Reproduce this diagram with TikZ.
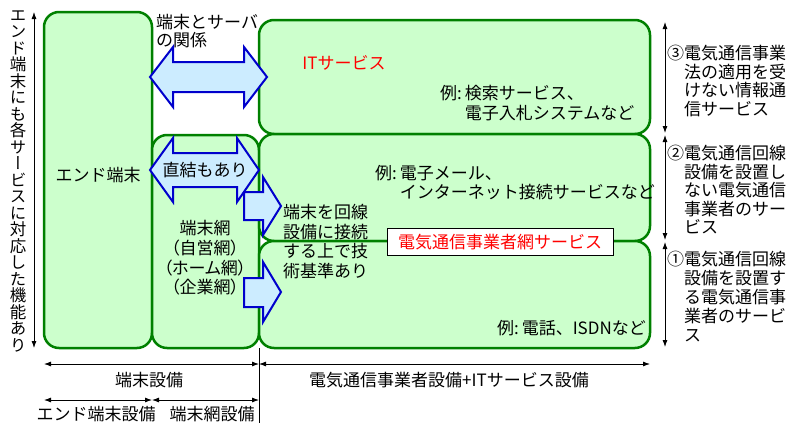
\documentclass[tikz,border=0pt]{standalone}
\usepackage{fontspec}
\setmainfont{Noto Sans CJK JP}
\newfontfamily\vfont[RawFeature=+vert]{Noto Sans CJK JP}
\newfontfamily\pfont[RawFeature=+palt]{Noto Sans CJK JP}
\usetikzlibrary{arrows.meta}
\definecolor{boxgreen}{RGB}{0,128,0}
\definecolor{boxfill}{RGB}{204,255,204}
\definecolor{arrowblue}{RGB}{0,0,204}
\definecolor{arrowfill}{RGB}{204,236,255}
\tikzset{
  gbox/.style={draw=boxgreen,fill=boxfill,line width=2.5pt,rounded corners=15pt,
    anchor=north west,inner sep=0pt,outer sep=0pt},
  barrow/.style={draw=arrowblue,fill=arrowfill,line width=2pt,line join=miter},
  dim/.style={{Latex[length=7pt,width=5pt]}-{Latex[length=7pt,width=5pt]},line width=0.8pt},
  lbl/.style={inner sep=0pt,font=\fontsize{17}{19}\selectfont},
}
\begin{document}
\begin{tikzpicture}[x=1pt,y=-1pt]
	\useasboundingbox (0,0) rectangle (792,423);
	% boxes
	\node[gbox,minimum width=108pt,minimum height=336pt] (endbox) at (44,12) {};
	\node[gbox,minimum width=107pt,minimum height=213pt] (netbox) at (152,135) {};
	\node[gbox,minimum width=391pt,minimum height=114pt] (itbox) at (259,20) {};
	\node[gbox,minimum width=391pt,minimum height=107pt] (lanbox) at (259,134) {};
	\node[gbox,minimum width=391pt,minimum height=107pt] (telbox) at (259,241) {};
	% block arrows
	\draw[barrow] (150,77) -- (173,47) -- (173,62) -- (244,62) -- (244,47) -- (267,77)
		-- (244,107) -- (244,92) -- (173,92) -- (173,107) -- cycle;
	\draw[barrow] (150,170) -- (173,138) -- (173,153) -- (237,153) -- (237,138) -- (259,170)
		-- (237,202) -- (237,187) -- (173,187) -- (173,202) -- cycle;
	\draw[barrow] (244,192) -- (263,192) -- (263,177) -- (281,206) -- (263,235) -- (263,220)
		-- (244,220) -- cycle;
	\draw[barrow] (244,278) -- (263,278) -- (263,262) -- (281,292) -- (263,322) -- (263,307)
		-- (244,307) -- cycle;
	% dimension lines
	\coordinate (dimA) at (0,364);
	\coordinate (dimB) at (0,400);
	\coordinate (bot) at (0,423);
	\draw[line width=0.8pt] (netbox.south east) -- (netbox.south east |- bot);
	\draw[dim] (endbox.south west |- dimA) -- (netbox.south east |- dimA);
	\draw[dim] (netbox.south east |- dimA) -- (telbox.south east |- dimA);
	\draw[dim] (endbox.south west |- dimB) -- (endbox.south east |- dimB);
	\draw[dim] (netbox.south west |- dimB) -- (netbox.south east |- dimB);
	\draw[dim] ([xshift=-10pt]endbox.north west) -- ([xshift=-10pt]endbox.south west);
	\draw[dim,shorten <=2pt,shorten >=1pt] ([xshift=15pt]itbox.north east) -- ([xshift=15pt]itbox.south east);
	\draw[dim,shorten <=1pt,shorten >=1pt] ([xshift=15pt]lanbox.north east) -- ([xshift=15pt]lanbox.south east);
	\draw[dim,shorten <=1pt,shorten >=1pt] ([xshift=15pt]telbox.north east) -- ([xshift=15pt]telbox.south east);
	% labels
	\node[lbl,align=center,font=\vfont\fontsize{16.5}{16.5}\selectfont] (sidelbl) at (18,181)
		{エ\\ン\\ド\\端\\末\\に\\も\\各\\サ\\ー\\ビ\\ス\\に\\対\\応\\し\\た\\機\\能\\あ\\り};
	\node[lbl,anchor=north west,align=left,font=\fontsize{17}{18}\selectfont] (srvrel) at (156,14) {端末とサーバ\\の関係};
	\node[lbl] (endlbl) at (98,175) {エンド端末};
	\node[lbl] (direct) at (205,170) {直結もあり};
	\node[lbl,align=center,font=\pfont\fontsize{17}{19.7}\selectfont] (netlbl) at (205,258)
		{端末網\\（自営網）\\（ホーム網）\\（企業網）};
	\node[lbl,text=red] (itlbl) at (344,63) {ITサービス};
	\node[lbl,anchor=north west,align=left,font=\fontsize{17}{20}\selectfont] (itex) at (440,85)
		{例:\,検索サービス、\\\hphantom{例:\,}電子入札システムなど};
	\node[lbl,anchor=north west,align=left] (mailex) at (375,165)
		{例:\,電子メール、\\\hphantom{例:\,}インターネット接続サービスなど};
	\node[lbl,anchor=north west,align=left,font=\fontsize{17}{19.7}\selectfont] (techlbl) at (283,204)
		{端末を回線\\設備に接続\\する上で技\\術基準あり};
	\node[lbl,anchor=west] (telex) at (497,328) {例:\,電話、ISDNなど};
	\node[lbl,draw,fill=white,line width=0.8pt,text=red,minimum width=226pt,minimum height=27pt] (netsvc)
		at (500,242) {電気通信事業者網サービス};
	\node[lbl,anchor=north west,align=left,font=\fontsize{17}{18.5}\selectfont] (law3) at (667,45)
		{③電気通信事業\\\hphantom{③}法の適用を受\\\hphantom{③}けない情報通\\\hphantom{③}信サービス};
	\node[lbl,anchor=north west,align=left,font=\fontsize{17}{18.5}\selectfont] (law2) at (667,145)
		{②電気通信回線\\\hphantom{②}設備を設置し\\\hphantom{②}ない電気通信\\\hphantom{②}事業者のサー\\\hphantom{②}ビス};
	\node[lbl,anchor=north west,align=left,font=\fontsize{17}{19}\selectfont] (law1) at (667,251)
		{①電気通信回線\\\hphantom{①}設備を設置す\\\hphantom{①}る電気通信事\\\hphantom{①}業者のサービ\\\hphantom{①}ス};
	\node[lbl] (termeq) at (149,380) {端末設備};
	\node[lbl] (careq) at (449,380) {電気通信事業者設備+ITサービス設備};
	\node[lbl] (endeq) at (96,414) {エンド端末設備};
	\node[lbl] (neteq) at (212,414) {端末網設備};
\end{tikzpicture}
\end{document}
